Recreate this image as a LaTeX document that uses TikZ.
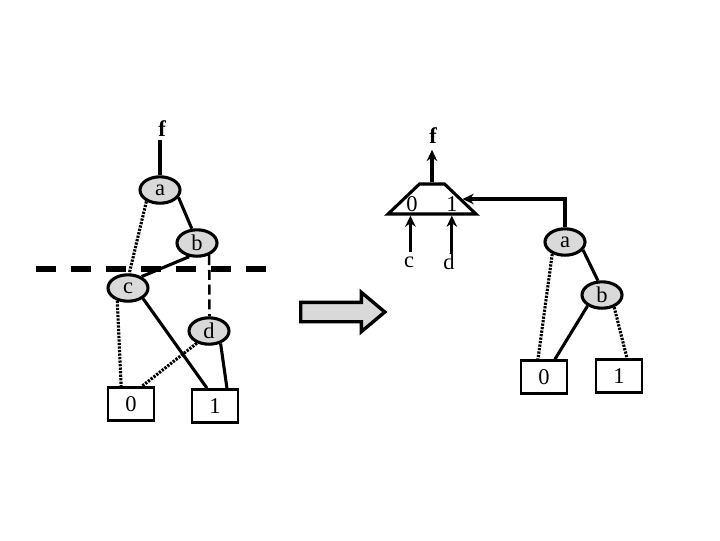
\documentclass[tikz,border=0pt]{standalone}
\usepackage{fontspec}
\setmainfont{Liberation Serif}
\usepackage{xcolor}
\usetikzlibrary{shapes.geometric,shapes.arrows,arrows.meta,positioning}
\definecolor{nodegray}{RGB}{217,217,217}
\tikzstyle{vertex} = [ellipse, draw=black, fill=nodegray, line width=2.2pt,
    minimum width=1cm, minimum height=0.66cm, inner sep=0pt, font=\fontsize{16}{16}\selectfont]
\tikzstyle{terminal} = [rectangle, draw=black, fill=white, line width=2pt,
    minimum width=1.15cm, minimum height=0.82cm, inner sep=0pt, font=\fontsize{16}{16}\selectfont]
\tikzstyle{plain} = [inner sep=0pt, font=\fontsize{16}{16}\selectfont]
\tikzstyle{output} = [inner sep=0pt, font=\fontsize{16}{16}\selectfont\bfseries]
\tikzstyle{edge} = [line width=2.2pt]
\tikzstyle{dotedge} = [line width=2.2pt, dash pattern=on 1.6pt off 0.9pt]
\tikzstyle{dashedge} = [line width=1.8pt, dash pattern=on 7pt off 3.5pt]
\tikzstyle{arrow} = [line width=2.2pt,-{Stealth[length=8pt,width=7.5pt]}]

\begin{document}
\begin{tikzpicture}[x=0.025cm,y=-0.025cm]
\useasboundingbox (0,0) rectangle (720,540);
% Cut
\coordinate (cutl) at (36,269);
\coordinate (cutr) at (267,269);
\draw[line width=3.6pt, dash pattern=on 14.2pt off 10.7pt] (cutl) -- (cutr);
% Left diagram
\node[output] (fl) at (162,129) {f};
\node[vertex] (al) at (160,190) {a};
\node[vertex] (bl) at (197,243) {b};
\node[vertex] (cl) at (128,288) {c};
\node[vertex] (dl) at (209,331) {d};
\node[terminal] (zl) at (131,404) {0};
\node[terminal] (ol) at (215,406) {1};
\draw[edge] ([yshift=-2pt]al.north |- fl.south) -- (al.north);
\draw[edge] (al.-22) -- (bl.110);
\draw[dotedge] (al.-140) -- (cl.85);
\draw[edge] (bl.-120) -- (cl.40);
\draw[dashedge] (bl.-45) -- (dl.88);
\draw[dotedge] (cl.-130) -- ([xshift=-7pt]zl.north);
\draw[edge] (cl.-35) -- ([xshift=-5.7pt]ol.north);
\draw[dotedge] (dl.-135) -- ([xshift=7.8pt]zl.north);
\draw[edge] (dl.-47) -- ([xshift=8.5pt]ol.north);
% Arrow
\node[single arrow, draw=black, fill=nodegray, line width=2.4pt, inner sep=0pt,
    minimum height=2.1cm, single arrow head extend=0.25cm,
    single arrow tip angle=80] (conv) at (337,312) {\rule{0pt}{0.4cm}};
% Mux
\node[trapezium, draw=black, fill=white, line width=2.2pt, inner sep=0pt,
    trapezium angle=47, trapezium stretches=true,
    minimum width=2.2cm, minimum height=0.75cm] (mux) at (432,199) {\phantom{0}};
\node[plain] (m0) at (412,204) {0};
\node[plain] (m1) at (452,204) {1};
\node[output] (fr) at (433,136) {f};
\node[plain] (cr) at (409,262) {c};
\node[plain] (dr) at (449,262) {d};
\draw[arrow] (mux.north) -- ([yshift=-4pt]mux.north |- fr.south);
\draw[arrow] ([xshift=1pt,yshift=3pt]cr.north) -- ([xshift=1pt]cr.north |- mux.south);
\draw[arrow] ([xshift=2pt]dr.north) -- ([xshift=2pt]dr.north |- mux.south);
% Right diagram
\node[vertex] (ar) at (565,242) {a};
\node[vertex] (br) at (602,295) {b};
\node[terminal] (zr) at (544,377) {0};
\node[terminal] (or) at (619,376) {1};
\draw[arrow] (ar.north) |- (mux.east);
\draw[edge] (ar.-24) -- (br.106);
\draw[dotedge] (ar.-137) -- ([xshift=-4.3pt]zr.north);
\draw[edge] (br.-143) -- ([xshift=7.8pt]zr.north);
\draw[dotedge] (br.-45) -- ([xshift=5.7pt]or.north);
\end{tikzpicture}
\end{document}
